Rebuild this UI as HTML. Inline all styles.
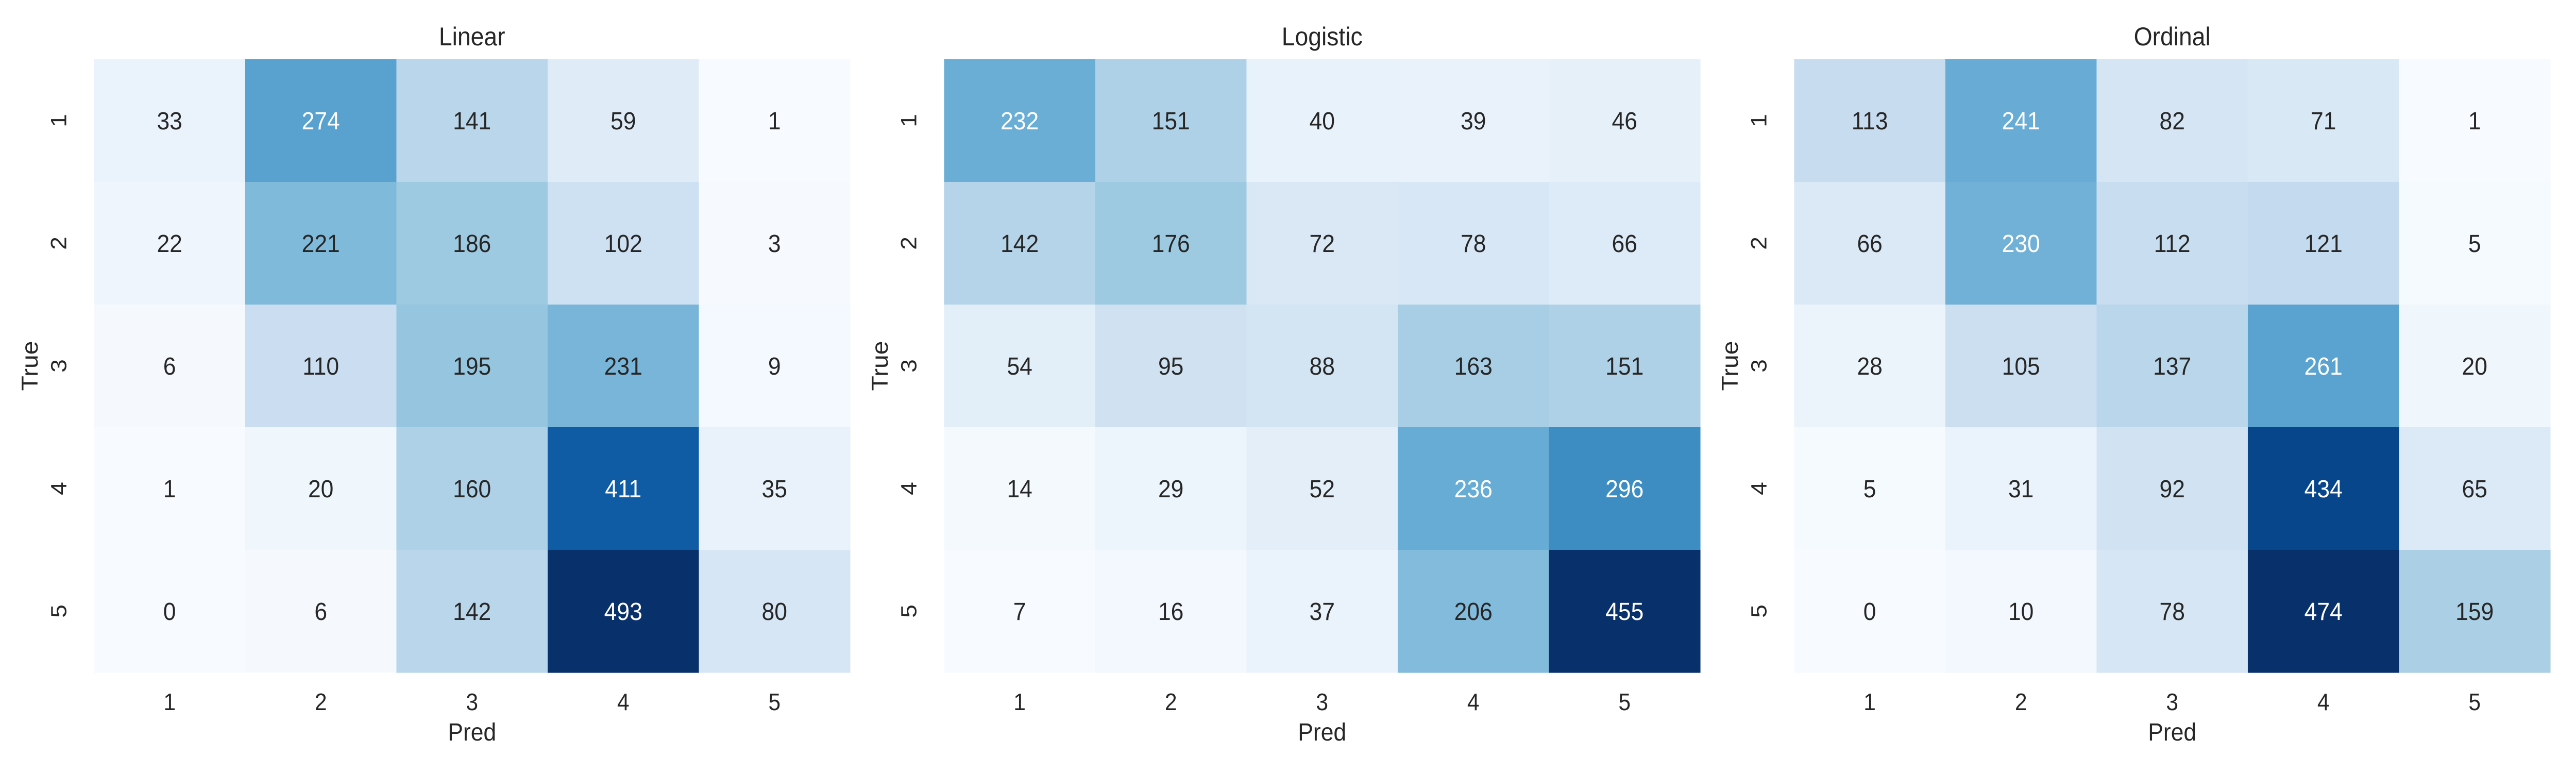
<!DOCTYPE html>
<html><head><meta charset="utf-8">
<style>
html,body{margin:0;padding:0;background:#fff;overflow:hidden;width:100%;height:100%;}
svg{display:block;width:100vw;height:100vh;}
text{font-family:"Liberation Sans",sans-serif;}
</style></head>
<body>
<svg id="fig" viewBox="0 0 5400 1500" preserveAspectRatio="none" xmlns="http://www.w3.org/2000/svg"></svg>
<script>
const titles = ["Linear","Logistic","Ordinal"];
const tickLabels = ["1","2","3","4","5"];
const linearValues = [[33,274,141,59,1],[22,221,186,102,3],[6,110,195,231,9],[1,20,160,411,35],[0,6,142,493,80]];
const logisticValues = [[232,151,40,39,46],[142,176,72,78,66],[54,95,88,163,151],[14,29,52,236,296],[7,16,37,206,455]];
const ordinalValues = [[113,241,82,71,1],[66,230,112,121,5],[28,105,137,261,20],[5,31,92,434,65],[0,10,78,474,159]];
const matrices = [linearValues, logisticValues, ordinalValues];

const NS="http://www.w3.org/2000/svg";
const svgRoot=document.getElementById('fig');
const blues=["#f7fbff","#deebf7","#c6dbef","#9ecae1","#6baed6","#4292c6","#2171b5","#08519c","#08306b"].map(h=>[parseInt(h.substr(1,2),16),parseInt(h.substr(3,2),16),parseInt(h.substr(5,2),16)]);
function cmap(t){t=Math.max(0,Math.min(1,t));const p=t*(blues.length-1);const i=Math.min(Math.floor(p),blues.length-2);const f=p-i;return blues[i].map((c,k)=>Math.round(c+(blues[i+1][k]-c)*f));}
function lum(rgb){const l=rgb.map(c=>{c/=255;return c<=0.03928?c/12.92:Math.pow((c+0.055)/1.055,2.4);});return 0.2126*l[0]+0.7152*l[1]+0.0722*l[2];}
function mk(tag,attrs,txt){const e=document.createElementNS(NS,tag);for(const k in attrs)e.setAttribute(k,attrs[k]);if(txt!==undefined)e.textContent=txt;return e;}

const panelX0=197, panelStep=1782, gridTop=115, cellW=317, cellH=238;
function xPos(panel,col){return panelX0+panel*panelStep+col*cellW;}
function yPos(row){return gridTop+row*cellH;}

matrices.forEach((m,p)=>{
  const g=mk('g',{});
  
  
  svgRoot.appendChild(g);
  const flat=m.flat();const vmin=Math.min(...flat),vmax=Math.max(...flat);
  m.forEach((row,r)=>row.forEach((v,c)=>{
    const col=cmap((v-vmin)/(vmax-vmin));
    const rect=mk('rect',{x:xPos(p,c),y:yPos(r),width:cellW+0.6,height:cellH+0.6,fill:'rgb('+col.join(',')+')'});
    
    
    g.appendChild(rect);
    const t=mk('text',{x:xPos(p,c)+cellW/2,y:yPos(r)+cellH/2+17,'text-anchor':'middle','font-size':48,fill:lum(col)>0.408?'#262626':'#ffffff'},String(v));
    
    
    g.appendChild(t);
  }));
  const left=xPos(p,0), w=cellW*5;
  const ti=mk('text',{x:left+w/2,y:88,'text-anchor':'middle','font-size':50,fill:'#262626'},titles[p]);
  
  
  g.appendChild(ti);
  tickLabels.forEach((lab,i)=>{
    const xt=mk('text',{x:xPos(p,i)+cellW/2,y:1378,'text-anchor':'middle','font-size':46,fill:'#262626'},lab);
    
    
    g.appendChild(xt);
    const cx=left-58, cy=yPos(i)+cellH/2;
    const yt=mk('text',{x:cx,y:cy,'text-anchor':'middle','font-size':46,fill:'#262626',transform:'rotate(-90 '+cx+' '+cy+')'},lab);
    
    
    g.appendChild(yt);
  });
  const xl=mk('text',{x:left+w/2,y:1437,'text-anchor':'middle','font-size':48,fill:'#262626'},'Pred');
  
  
  g.appendChild(xl);
  const lx=left-118, ly=gridTop+cellH*2.5;
  const yl=mk('text',{x:lx,y:ly,'text-anchor':'middle','font-size':48,fill:'#262626',transform:'rotate(-90 '+lx+' '+ly+')'},'True');
  
  
  g.appendChild(yl);
});
</script>
</body></html>
